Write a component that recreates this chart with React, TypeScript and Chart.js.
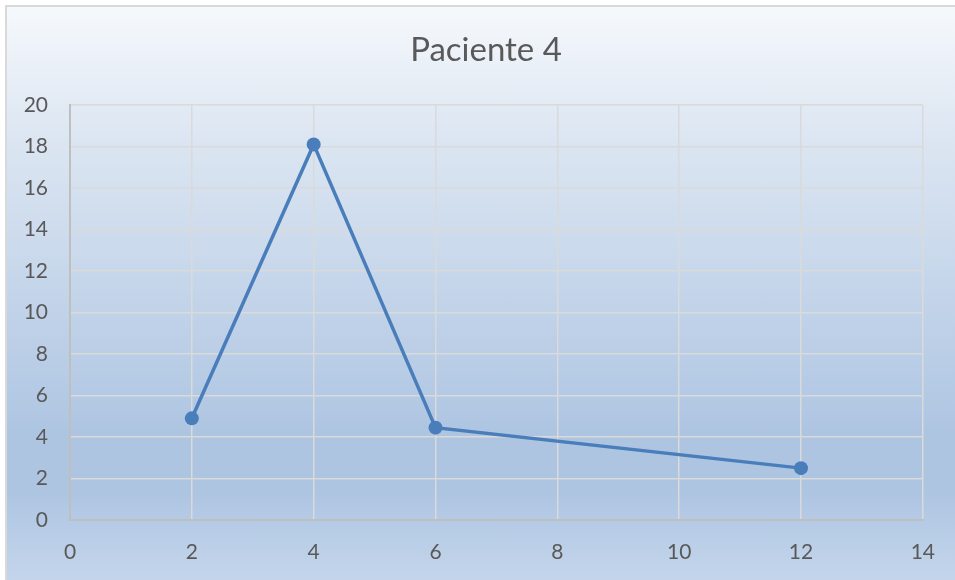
import { useEffect, useRef } from "react";
import { Chart, registerables } from "chart.js";

Chart.register(...registerables);

const titleText = "Paciente 4";
const xValues = [2, 4, 6, 12];
const yValues = [4.9, 18.1, 4.45, 2.5];
const xAxisRange = [0, 14];
const yAxisRange = [0, 20];
const tickStep = 2;

const FONT = "Lato, 'Noto Sans', sans-serif";
const TEXT_COLOR = "#595959";

export default function App() {
  const ref = useRef<HTMLCanvasElement>(null);

  useEffect(() => {
    document.body.style.margin = "0";
    document.documentElement.style.overflow = "hidden";
    document.body.style.overflow = "hidden";
    const canvas = ref.current!;
    const titlePlugin = {
      id: "customTitle",
      afterDraw(chart: any) {
        const ctx = chart.ctx;
        ctx.save();
        ctx.fillStyle = TEXT_COLOR;
        ctx.font = `33px ${FONT}`;
        ctx.textAlign = "center";
        ctx.textBaseline = "middle";
        ctx.fillText(titleText, 479, 43);
        ctx.restore();
      },
    };
    const chart = new Chart(canvas, {
      type: "scatter",
      data: {
        datasets: [
          {
            data: xValues.map((x, i) => ({ x, y: yValues[i] })),
            showLine: true,
            borderColor: "#4a7ebb",
            backgroundColor: "#4a7ebb",
            borderWidth: 3.5,
            pointRadius: 7,
            pointBorderWidth: 0,
            pointBackgroundColor: "#4a7ebb",
          },
        ],
      },
      options: {
        responsive: false,
        animation: false,
        layout: { padding: { top: 98, right: 31, left: 0, bottom: 0 } },
        plugins: {
          legend: { display: false },
          title: { display: false },
          tooltip: { enabled: false },
        },
        scales: {
          x: {
            type: "linear",
            min: xAxisRange[0],
            max: xAxisRange[1],
            ticks: {
              stepSize: tickStep,
              color: TEXT_COLOR,
              font: { family: FONT, size: 21 },
              padding: 20,
            },
            grid: { color: "#dadada", lineWidth: 1.5, drawTicks: false },
            border: { color: "#bfbfbf", width: 2 },
            afterFit: (scale: any) => {
              scale.height = 60;
            },
          },
          y: {
            type: "linear",
            min: yAxisRange[0],
            max: yAxisRange[1],
            ticks: {
              stepSize: tickStep,
              color: TEXT_COLOR,
              font: { family: FONT, size: 21 },
              padding: 22,
            },
            grid: { color: "#dadada", lineWidth: 1.5, drawTicks: false },
            border: { color: "#bfbfbf", width: 2 },
            afterFit: (scale: any) => {
              scale.width = 63;
            },
          },
        },
      },
      plugins: [titlePlugin],
    });
    return () => chart.destroy();
  }, []);

  return (
    <div
      style={{
        position: "relative",
        width: 955,
        height: 580,
        overflow: "hidden",
        background: "#ffffff",
      }}
    >
      <div
        style={{
          position: "absolute",
          left: 5,
          top: 5,
          width: 1000,
          height: 600,
          borderTop: "2px solid #d9d9d9",
          borderLeft: "2px solid #d9d9d9",
          background:
            "linear-gradient(to bottom, #f6f9fc 0%, #dfe8f3 19%, #aec5e2 71%, #aec5e2 81%, #c6d7ec 97%)",
        }}
      >
        <canvas
          ref={ref}
          width={948}
          height={573}
          style={{ display: "block", width: 948, height: 573 }}
        />
      </div>
    </div>
  );
}
